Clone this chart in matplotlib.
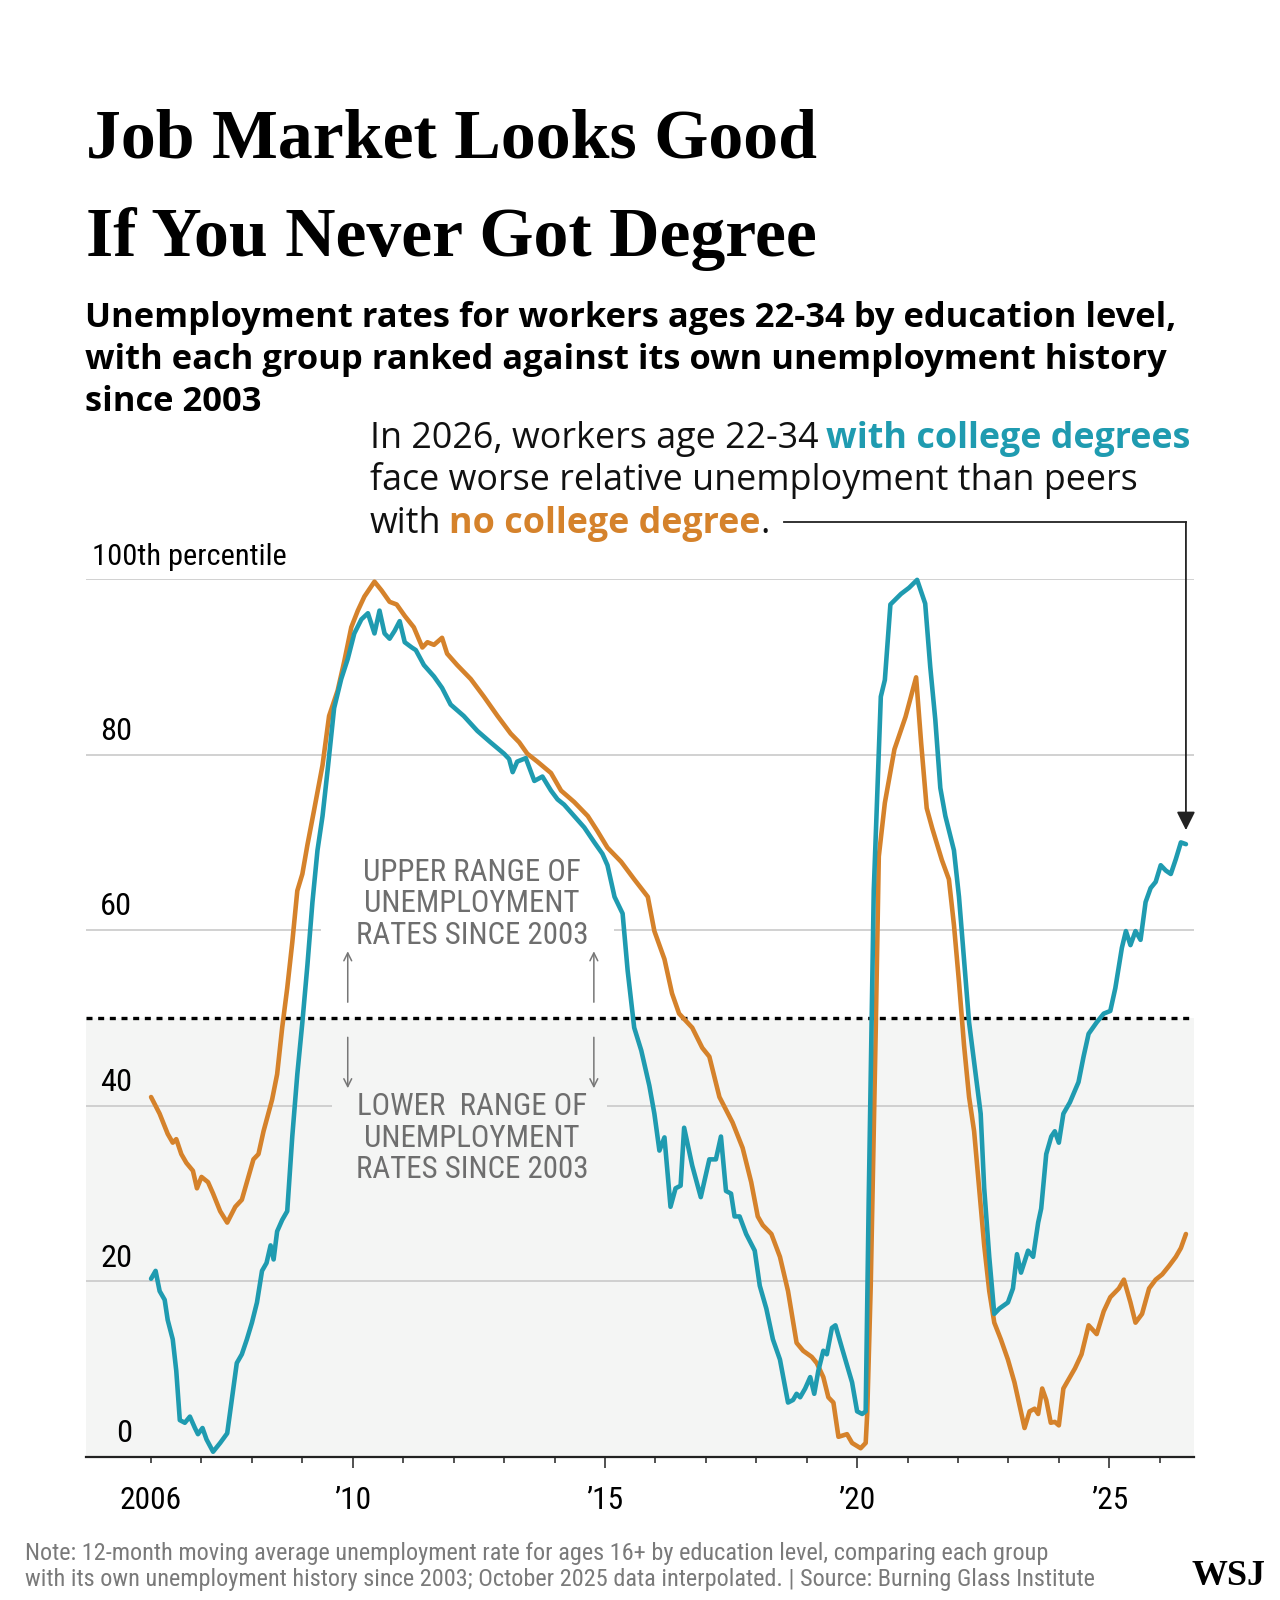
import matplotlib
matplotlib.use('Agg')
import matplotlib.pyplot as plt
from matplotlib.lines import Line2D
from matplotlib.ticker import FixedLocator

## Data (x = fractional year, y = percentile rank)
college_x = [2006.0, 2006.09, 2006.17, 2006.27, 2006.33, 2006.43, 2006.5, 2006.57, 2006.67, 2006.77,
             2006.87, 2006.93, 2007.02, 2007.1, 2007.23, 2007.37, 2007.51, 2007.6, 2007.7, 2007.8,
             2007.9, 2008.0, 2008.1, 2008.2, 2008.29, 2008.37, 2008.43, 2008.5, 2008.6, 2008.7,
             2008.8, 2008.9, 2009.0, 2009.1, 2009.2, 2009.3, 2009.4, 2009.5, 2009.63, 2009.77,
             2009.9, 2010.03, 2010.17, 2010.3, 2010.43, 2010.53, 2010.63, 2010.73, 2010.83, 2010.93,
             2011.03, 2011.17, 2011.25, 2011.41, 2011.61, 2011.77, 2011.94, 2012.2, 2012.47, 2012.73,
             2013.0, 2013.1, 2013.17, 2013.26, 2013.43, 2013.6, 2013.76, 2013.93, 2014.06, 2014.19,
             2014.39, 2014.59, 2014.79, 2014.95, 2015.05, 2015.19, 2015.35, 2015.45, 2015.58, 2015.72,
             2015.88, 2015.98, 2016.08, 2016.18, 2016.3, 2016.4, 2016.5, 2016.57, 2016.73, 2016.9,
             2017.07, 2017.2, 2017.3, 2017.4, 2017.5, 2017.57, 2017.67, 2017.8, 2017.97, 2018.07,
             2018.2, 2018.33, 2018.47, 2018.63, 2018.73, 2018.8, 2018.87, 2018.97, 2019.07, 2019.15,
             2019.23, 2019.33, 2019.4, 2019.5, 2019.57, 2019.7, 2019.9, 2020.0, 2020.1, 2020.17,
             2020.23, 2020.33, 2020.47, 2020.55, 2020.66, 2020.87, 2021.03, 2021.19, 2021.35, 2021.45,
             2021.55, 2021.65, 2021.75, 2021.92, 2022.02, 2022.12, 2022.22, 2022.35, 2022.45, 2022.52,
             2022.62, 2022.72, 2022.82, 2022.99, 2023.09, 2023.17, 2023.25, 2023.39, 2023.49, 2023.59,
             2023.65, 2023.75, 2023.85, 2023.92, 2024.0, 2024.09, 2024.22, 2024.39, 2024.49, 2024.59,
             2024.75, 2024.89, 2025.02, 2025.12, 2025.25, 2025.33, 2025.42, 2025.52, 2025.62, 2025.72,
             2025.82, 2025.92, 2026.02, 2026.12, 2026.22, 2026.32, 2026.42, 2026.52]
college_pct = [20.3, 21.2, 18.9, 17.9, 15.6, 13.4, 9.8, 4.2, 3.9, 4.6,
               3.3, 2.6, 3.3, 2.0, 0.6, 1.6, 2.7, 6.5, 10.7, 11.7,
               13.4, 15.3, 17.6, 21.2, 22.1, 24.1, 22.5, 25.7, 27.0, 28.0,
               36.5, 43.6, 49.5, 56.0, 63.2, 69.1, 73.0, 78.2, 85.3, 88.6,
               90.9, 93.8, 95.4, 96.1, 93.8, 96.4, 93.8, 93.2, 94.1, 95.2,
               92.8, 92.2, 91.9, 90.2, 88.9, 87.6, 85.7, 84.4, 82.7, 81.4,
               80.1, 79.5, 78.0, 79.2, 79.6, 77.0, 77.5, 75.9, 74.9, 74.3,
               73.0, 71.7, 70.0, 68.7, 67.4, 63.8, 61.9, 55.4, 48.9, 46.3,
               42.3, 39.1, 34.9, 36.4, 28.5, 30.6, 30.9, 37.5, 33.2, 29.6,
               33.9, 33.9, 36.5, 30.3, 30.0, 27.4, 27.4, 25.4, 23.5, 19.5,
               16.9, 13.4, 11.1, 6.2, 6.5, 7.2, 6.8, 7.8, 9.1, 7.2,
               9.8, 12.1, 11.7, 14.7, 15.0, 12.4, 8.5, 5.2, 4.9, 5.2,
               29.3, 64.5, 86.6, 88.5, 97.1, 98.3, 99.0, 99.9, 97.2, 90.0,
               84.0, 76.2, 73.0, 69.1, 63.8, 56.7, 49.5, 43.6, 39.1, 30.6,
               22.8, 16.3, 16.9, 17.6, 19.2, 23.1, 21.0, 23.5, 22.8, 26.7,
               28.3, 34.5, 36.5, 37.1, 35.8, 39.1, 40.4, 42.7, 45.6, 48.2,
               49.5, 50.5, 50.8, 53.4, 58.0, 59.9, 58.3, 59.9, 58.9, 63.2,
               64.8, 65.5, 67.4, 66.8, 66.4, 68.1, 70.0, 69.8]

nocollege_x = [2006.0, 2006.17, 2006.33, 2006.43, 2006.5, 2006.6, 2006.7, 2006.83, 2006.91, 2007.0,
               2007.13, 2007.23, 2007.37, 2007.51, 2007.67, 2007.8, 2007.9, 2008.03, 2008.13, 2008.23,
               2008.4, 2008.5, 2008.6, 2008.7, 2008.8, 2008.9, 2009.0, 2009.1, 2009.23, 2009.4,
               2009.53, 2009.7, 2009.83, 2009.97, 2010.1, 2010.23, 2010.43, 2010.57, 2010.73, 2010.87,
               2011.03, 2011.21, 2011.38, 2011.48, 2011.61, 2011.77, 2011.87, 2012.07, 2012.34, 2012.6,
               2012.87, 2013.13, 2013.3, 2013.46, 2013.66, 2013.93, 2014.13, 2014.39, 2014.66, 2014.85,
               2015.05, 2015.32, 2015.58, 2015.85, 2015.98, 2016.18, 2016.33, 2016.47, 2016.73, 2016.93,
               2017.07, 2017.27, 2017.53, 2017.73, 2017.9, 2018.03, 2018.13, 2018.3, 2018.47, 2018.63,
               2018.8, 2018.93, 2019.1, 2019.2, 2019.33, 2019.43, 2019.53, 2019.63, 2019.8, 2019.9,
               2020.07, 2020.17, 2020.2, 2020.27, 2020.37, 2020.43, 2020.55, 2020.74, 2020.96, 2021.17,
               2021.27, 2021.38, 2021.49, 2021.68, 2021.82, 2021.92, 2022.02, 2022.12, 2022.22, 2022.32,
               2022.42, 2022.52, 2022.62, 2022.72, 2022.85, 2022.99, 2023.12, 2023.22, 2023.32, 2023.42,
               2023.52, 2023.59, 2023.67, 2023.75, 2023.84, 2023.92, 2024.0, 2024.09, 2024.19, 2024.32,
               2024.45, 2024.59, 2024.75, 2024.89, 2025.02, 2025.19, 2025.29, 2025.42, 2025.52, 2025.65,
               2025.79, 2025.92, 2026.05, 2026.19, 2026.32, 2026.42, 2026.52]
nocollege_pct = [41.0, 39.1, 36.8, 35.8, 36.2, 34.5, 33.5, 32.6, 30.6, 31.9,
                 31.3, 30.0, 28.0, 26.7, 28.5, 29.3, 31.3, 33.9, 34.5, 37.1,
                 40.7, 43.6, 48.9, 53.4, 58.6, 64.5, 66.4, 69.7, 73.6, 78.8,
                 84.4, 87.3, 90.6, 94.5, 96.4, 98.0, 99.7, 98.7, 97.4, 97.1,
                 95.8, 94.5, 92.2, 92.8, 92.5, 93.3, 91.5, 90.2, 88.6, 86.6,
                 84.4, 82.4, 81.4, 80.1, 79.2, 77.9, 75.9, 74.6, 73.0, 71.3,
                 69.4, 67.8, 65.8, 63.8, 59.9, 56.7, 52.8, 50.5, 48.9, 46.6,
                 45.6, 41.0, 38.1, 35.2, 31.3, 27.4, 26.4, 25.4, 22.8, 18.9,
                 13.0, 12.1, 11.4, 10.7, 9.1, 6.8, 6.2, 2.3, 2.6, 1.6,
                 1.0, 1.6, 4.9, 19.5, 48.9, 68.4, 74.5, 80.6, 84.3, 88.8,
                 81.3, 73.9, 71.6, 68.0, 65.8, 60.6, 54.1, 46.9, 41.0, 37.1,
                 30.6, 24.1, 18.9, 15.3, 13.4, 11.1, 8.5, 5.9, 3.3, 5.2,
                 5.5, 4.9, 7.8, 6.5, 3.9, 4.0, 3.6, 7.8, 8.8, 10.1,
                 11.7, 15.0, 14.0, 16.6, 18.2, 19.2, 20.2, 17.6, 15.3, 16.3,
                 19.2, 20.2, 20.8, 21.8, 22.8, 23.8, 25.4]

year_ticks = [2006, 2010, 2015, 2020, 2025]
year_labels = ['2006', '\u201910', '\u201915', '\u201920', '\u201925']
grid_values = [0, 20, 40, 60, 80]
grid_labels = ['0', '20', '40', '60', '80']

TEAL = '#1f9bb0'
ORANGE = '#d5822b'
W, H = 1280, 1600
SANS = ['Open Sans', 'DejaVu Sans']
NARROW = ['Roboto Condensed', 'DejaVu Sans']
SERIF = ['Liberation Serif', 'DejaVu Serif']


def fpos(x, y):
    # pixel position measured from top-left -> figure fraction
    return x / W, 1 - y / H


fig = plt.figure(figsize=(12.8, 16), dpi=100)
fig.patch.set_facecolor('white')
renderer = fig.canvas.get_renderer()


def fit(t, target):
    # shrink/grow the font so the text spans target pixels
    w = t.get_window_extent(renderer).width
    t.set_fontsize(t.get_fontsize() * target / w)
    return t.get_fontsize()


def probe_size(text, target, **kw):
    p = fig.text(0, 0, text, fontsize=20, **kw)
    size = fit(p, target)
    p.remove()
    return size


ax = fig.add_axes([86 / W, 1 - 1457 / H, (1194 - 86) / W, (1457 - 579) / H])
ax.set_xlim(2004.71, 2026.68)
ax.set_ylim(0, 100)
ax.set_facecolor('none')
for s in ['top', 'left', 'right']:
    ax.spines[s].set_visible(False)
ax.spines['bottom'].set_color('#222222')
ax.spines['bottom'].set_linewidth(1.6)
ax.spines['bottom'].set_zorder(5)

# shaded lower half + grid
ax.axhspan(0, 50, color='#f4f5f4', zorder=0, lw=0)
gcol = '#c9c9c9'
for lev in [20, 80, 100]:
    ax.hlines(lev, 2004.71, 2026.68, color=gcol, lw=1.2, zorder=1)
ax.hlines(60, 2004.71, 2009.36, color=gcol, lw=1.2, zorder=1)
ax.hlines(60, 2015.17, 2026.68, color=gcol, lw=1.2, zorder=1)
ax.hlines(40, 2004.71, 2009.58, color=gcol, lw=1.2, zorder=1)
ax.hlines(40, 2015.05, 2026.68, color=gcol, lw=1.2, zorder=1)
ax.axhline(50, color='black', lw=2.4, dashes=(1.8, 1.7), zorder=2)

# series
ax.plot(nocollege_x, nocollege_pct, color=ORANGE, lw=3.3, zorder=3, clip_on=False,
        solid_joinstyle='round', solid_capstyle='round')
ax.plot(college_x, college_pct, color=TEAL, lw=3.3, zorder=4, clip_on=False,
        solid_joinstyle='round', solid_capstyle='round')

# y labels above gridlines
t100 = ax.text(2004.82, 100.9, '100th percentile', family=NARROW, fontstretch='condensed',
               fontsize=23, ha='left', va='bottom')
axis_size = fit(t100, 195)
digit_size = probe_size('80', 32, family=NARROW, fontstretch='condensed')
for lev, lab in zip(grid_values, grid_labels):
    ax.text(2005.63, lev + 1.0, lab, family=NARROW, fontstretch='condensed',
            fontsize=digit_size, ha='right', va='bottom')

# x axis ticks
year_size = probe_size('2006', 62, family=NARROW, fontstretch='condensed')
ax.set_yticks([])
ax.xaxis.set_major_locator(FixedLocator(year_ticks))
ax.xaxis.set_minor_locator(FixedLocator([y for y in range(2007, 2027) if y not in year_ticks]))
ax.set_xticklabels(year_labels, family=NARROW, fontstretch='condensed', fontsize=year_size)
ax.tick_params(axis='x', which='major', length=8, width=1.1, color='#222222', pad=13)
ax.tick_params(axis='x', which='minor', length=4.5, width=1.1, color='#222222')
ax.xaxis.get_major_ticks()[0].tick1line.set_markersize(4.5)

# range annotations
upper = ['UPPER RANGE OF', 'UNEMPLOYMENT', 'RATES SINCE 2003']
lower = ['LOWER  RANGE OF', 'UNEMPLOYMENT', 'RATES SINCE 2003']
range_size = probe_size('RATES SINCE 2003', 232, family=NARROW, fontstretch='condensed')
for i, line in enumerate(upper):
    ax.text(2012.36, 66.6 - i * 3.6, line, family=NARROW, fontstretch='condensed',
            fontsize=range_size, color='#6e6e6e', ha='center', va='center')
for i, line in enumerate(lower):
    ax.text(2012.36, 39.9 - i * 3.6, line, family=NARROW, fontstretch='condensed',
            fontsize=range_size, color='#6e6e6e', ha='center', va='center')
arrow_kw = dict(arrowstyle='->', color='#777777', lw=1.1, shrinkA=0, shrinkB=0,
                mutation_scale=14)
for xa in [2009.9, 2014.78]:
    ax.annotate('', xy=(xa, 57.6), xytext=(xa, 51.8), arrowprops=arrow_kw)
    ax.annotate('', xy=(xa, 42.0), xytext=(xa, 47.8), arrowprops=arrow_kw)

# title & subtitle
t1 = fig.text(*fpos(86, 158), 'Job Market Looks Good', family=SERIF, fontweight='bold',
              fontsize=54, va='baseline')
title_size = fit(t1, 731)
fig.text(*fpos(86, 256), 'If You Never Got Degree', family=SERIF, fontweight='bold',
         fontsize=title_size, va='baseline')
sub = ['Unemployment rates for workers ages 22-34 by education level,',
       'with each group ranked against its own unemployment history',
       'since 2003']
s1 = fig.text(*fpos(85, 327), sub[0], family=SANS, fontweight='bold', fontsize=22, va='baseline')
sub_size = fit(s1, 1087)
for i, line in enumerate(sub[1:], start=1):
    fig.text(*fpos(85, 327 + i * 42), line, family=SANS, fontweight='bold', fontsize=sub_size,
             va='baseline')

note_size = probe_size('face worse relative unemployment than peers', 766, family=SANS)


def write_pieces(x, y, pieces, size):
    for txt, color, weight in pieces:
        t = fig.text(*fpos(x, y), txt, family=SANS, fontsize=size, color=color,
                     fontweight=weight, va='baseline')
        bb = t.get_window_extent(renderer)
        x = bb.x1
    return x


space = 0.3 * note_size
x1 = write_pieces(370, 448, [('In 2026, workers age 22-34', '#111111', 'normal')], note_size)
write_pieces(x1 + space, 448, [('with college degrees', TEAL, 'bold')], note_size)
write_pieces(370, 490, [('face worse relative unemployment than peers', '#111111', 'normal')],
             note_size)
x2 = write_pieces(370, 533, [('with', '#111111', 'normal')], note_size)
x3 = write_pieces(x2 + space, 533, [('no college degree', ORANGE, 'bold'),
                                    ('.', '#111111', 'normal')], note_size)

# connector from text to the last college point
x_end_px, _ = ax.transData.transform((college_x[-1], 0))
y_line = 522
fig.add_artist(Line2D([(x3 + 14) / W, x_end_px / W], [1 - y_line / H, 1 - y_line / H],
                      color='#222222', lw=1.3, transform=fig.transFigure))
y_top_data = ax.transData.inverted().transform((x_end_px, H - y_line))[1]
ax.annotate('', xy=(college_x[-1], college_pct[-1] + 1.6), xytext=(college_x[-1], y_top_data),
            arrowprops=dict(arrowstyle='-|>', color='#222222', lw=1.3, shrinkA=0, shrinkB=0,
                            mutation_scale=28), annotation_clip=False)

# footnote + logo
notes = ['Note: 12-month moving average unemployment rate for ages 16+ by education level, comparing each group',
         'with its own unemployment history since 2003; October 2025 data interpolated. | Source: Burning Glass Institute']
n2 = fig.text(*fpos(25, 1586), notes[1], family=NARROW, fontstretch='condensed', fontsize=17,
              color='#7a7a7a', va='baseline')
foot_size = fit(n2, 1067)
fig.text(*fpos(25, 1560), notes[0], family=NARROW, fontstretch='condensed', fontsize=foot_size,
         color='#7a7a7a', va='baseline')
wsj = fig.text(*fpos(1192, 1585), 'WSJ', family=SERIF, fontweight='bold', fontsize=30,
               va='baseline')
fit(wsj, 74)

fig.savefig('out.png', dpi=100, facecolor='white')
